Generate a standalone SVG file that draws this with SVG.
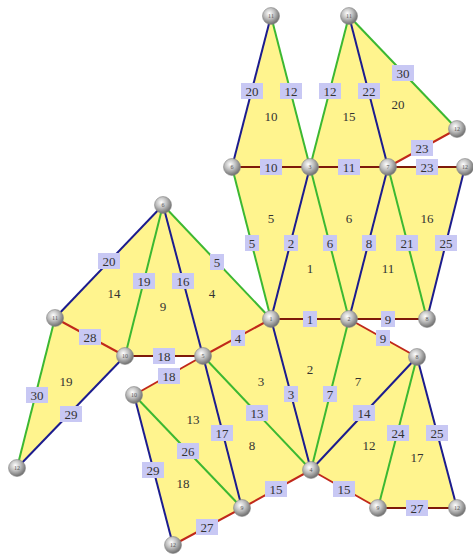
<svg xmlns="http://www.w3.org/2000/svg" width="473" height="555" viewBox="0 0 473 555">
<defs>
<radialGradient id="ball" cx="0.4" cy="0.35" r="0.65">
<stop offset="0" stop-color="#ffffff"/>
<stop offset="0.5" stop-color="#bdbdbd"/>
<stop offset="1" stop-color="#6e6e6e"/>
</radialGradient>
</defs>
<style>
.face{fill:#fff48e;stroke:none}
.ft{font-family:"Liberation Serif",serif;font-size:13px;fill:#333;text-anchor:middle;dominant-baseline:central}
.e{stroke-width:2;fill:none}
.b{stroke:#1c1c8e}
.g{stroke:#3cb832}
.r{stroke:#c0281a}
.d{stroke:#7e1a0a}
.lb{fill:#c8c8f4}
.lt{font-family:"Liberation Serif",serif;font-size:13px;fill:#333;text-anchor:middle;dominant-baseline:central}
.nd{fill:url(#ball);stroke:#8a8a8a;stroke-width:0.6}
.nt{font-family:"Liberation Serif",serif;font-size:6px;fill:#555;text-anchor:middle;dominant-baseline:central}
</style>
<g id="faces">
<polygon class="face" points="271,16 232,167 310,167"/>
<polygon class="face" points="349,16 310,167 388,167"/>
<polygon class="face" points="349,16 388,167 457,129"/>
<polygon class="face" points="232,167 310,167 271,319"/>
<polygon class="face" points="310,167 388,167 349,319"/>
<polygon class="face" points="388,167 465,167 427,319"/>
<polygon class="face" points="310,167 271,319 349,319"/>
<polygon class="face" points="388,167 349,319 427,319"/>
<polygon class="face" points="163,205 55,318 125,356"/>
<polygon class="face" points="163,205 125,356 203,356"/>
<polygon class="face" points="163,205 203,356 271,319"/>
<polygon class="face" points="55,318 125,356 17,468"/>
<polygon class="face" points="271,319 349,319 311,470"/>
<polygon class="face" points="203,356 271,319 311,470"/>
<polygon class="face" points="349,319 417,357 311,470"/>
<polygon class="face" points="203,356 311,470 242,508"/>
<polygon class="face" points="203,356 134,395 242,508"/>
<polygon class="face" points="134,395 242,508 173,545"/>
<polygon class="face" points="311,470 417,357 378,508"/>
<polygon class="face" points="417,357 378,508 457,508"/>
<text class="ft" x="271" y="116">10</text>
<text class="ft" x="349" y="116">15</text>
<text class="ft" x="398" y="104">20</text>
<text class="ft" x="271" y="218">5</text>
<text class="ft" x="349" y="218">6</text>
<text class="ft" x="427" y="218">16</text>
<text class="ft" x="310" y="268">1</text>
<text class="ft" x="388" y="268">11</text>
<text class="ft" x="114" y="293">14</text>
<text class="ft" x="163" y="306">9</text>
<text class="ft" x="212" y="293">4</text>
<text class="ft" x="66" y="381">19</text>
<text class="ft" x="310" y="369">2</text>
<text class="ft" x="261" y="381">3</text>
<text class="ft" x="358" y="381">7</text>
<text class="ft" x="252" y="445">8</text>
<text class="ft" x="193" y="419">13</text>
<text class="ft" x="183" y="483">18</text>
<text class="ft" x="369" y="445">12</text>
<text class="ft" x="417" y="457">17</text>
</g>
<g id="connectors">
<line class="e b" x1="271" y1="16" x2="232" y2="167"/>
<line class="e g" x1="271" y1="16" x2="310" y2="167"/>
<line class="e g" x1="349" y1="16" x2="310" y2="167"/>
<line class="e b" x1="349" y1="16" x2="388" y2="167"/>
<line class="e g" x1="349" y1="16" x2="457" y2="129"/>
<line class="e r" x1="457" y1="129" x2="388" y2="167"/>
<line class="e d" x1="232" y1="167" x2="310" y2="167"/>
<line class="e d" x1="310" y1="167" x2="388" y2="167"/>
<line class="e d" x1="388" y1="167" x2="465" y2="167"/>
<line class="e g" x1="232" y1="167" x2="271" y2="319"/>
<line class="e b" x1="310" y1="167" x2="271" y2="319"/>
<line class="e g" x1="310" y1="167" x2="349" y2="319"/>
<line class="e b" x1="388" y1="167" x2="349" y2="319"/>
<line class="e g" x1="388" y1="167" x2="427" y2="319"/>
<line class="e b" x1="465" y1="167" x2="427" y2="319"/>
<line class="e d" x1="271" y1="319" x2="349" y2="319"/>
<line class="e d" x1="349" y1="319" x2="427" y2="319"/>
<line class="e b" x1="163" y1="205" x2="55" y2="318"/>
<line class="e g" x1="163" y1="205" x2="125" y2="356"/>
<line class="e b" x1="163" y1="205" x2="203" y2="356"/>
<line class="e g" x1="163" y1="205" x2="271" y2="319"/>
<line class="e r" x1="55" y1="318" x2="125" y2="356"/>
<line class="e d" x1="125" y1="356" x2="203" y2="356"/>
<line class="e r" x1="203" y1="356" x2="271" y2="319"/>
<line class="e g" x1="55" y1="318" x2="17" y2="468"/>
<line class="e b" x1="125" y1="356" x2="17" y2="468"/>
<line class="e r" x1="203" y1="356" x2="134" y2="395"/>
<line class="e b" x1="134" y1="395" x2="173" y2="545"/>
<line class="e g" x1="134" y1="395" x2="242" y2="508"/>
<line class="e b" x1="203" y1="356" x2="242" y2="508"/>
<line class="e g" x1="203" y1="356" x2="311" y2="470"/>
<line class="e b" x1="271" y1="319" x2="311" y2="470"/>
<line class="e g" x1="349" y1="319" x2="311" y2="470"/>
<line class="e b" x1="311" y1="470" x2="417" y2="357"/>
<line class="e r" x1="349" y1="319" x2="417" y2="357"/>
<line class="e g" x1="417" y1="357" x2="378" y2="508"/>
<line class="e b" x1="417" y1="357" x2="457" y2="508"/>
<line class="e r" x1="242" y1="508" x2="311" y2="470"/>
<line class="e r" x1="311" y1="470" x2="378" y2="508"/>
<line class="e d" x1="378" y1="508" x2="457" y2="508"/>
<line class="e r" x1="173" y1="545" x2="242" y2="508"/>
</g>
<g id="edge-labels">
<rect class="lb" x="241" y="83" width="22" height="16"/><text class="lt" x="252" y="91">20</text>
<rect class="lb" x="280" y="83" width="22" height="16"/><text class="lt" x="291" y="91">12</text>
<rect class="lb" x="319" y="83" width="22" height="16"/><text class="lt" x="330" y="91">12</text>
<rect class="lb" x="358" y="83" width="22" height="16"/><text class="lt" x="369" y="91">22</text>
<rect class="lb" x="392" y="65" width="22" height="16"/><text class="lt" x="403" y="73">30</text>
<rect class="lb" x="411" y="140" width="22" height="16"/><text class="lt" x="422" y="148">23</text>
<rect class="lb" x="260" y="159" width="22" height="16"/><text class="lt" x="271" y="167">10</text>
<rect class="lb" x="338" y="159" width="22" height="16"/><text class="lt" x="349" y="167">11</text>
<rect class="lb" x="416" y="159" width="22" height="16"/><text class="lt" x="427" y="167">23</text>
<rect class="lb" x="245" y="235" width="14" height="16"/><text class="lt" x="252" y="243">5</text>
<rect class="lb" x="284" y="235" width="14" height="16"/><text class="lt" x="291" y="243">2</text>
<rect class="lb" x="323" y="235" width="14" height="16"/><text class="lt" x="330" y="243">6</text>
<rect class="lb" x="362" y="235" width="14" height="16"/><text class="lt" x="369" y="243">8</text>
<rect class="lb" x="396" y="235" width="22" height="16"/><text class="lt" x="407" y="243">21</text>
<rect class="lb" x="435" y="235" width="22" height="16"/><text class="lt" x="446" y="243">25</text>
<rect class="lb" x="303" y="311" width="14" height="16"/><text class="lt" x="310" y="319">1</text>
<rect class="lb" x="381" y="311" width="14" height="16"/><text class="lt" x="388" y="319">9</text>
<rect class="lb" x="98" y="253" width="22" height="16"/><text class="lt" x="109" y="261">20</text>
<rect class="lb" x="133" y="273" width="22" height="16"/><text class="lt" x="144" y="281">19</text>
<rect class="lb" x="172" y="273" width="22" height="16"/><text class="lt" x="183" y="281">16</text>
<rect class="lb" x="210" y="254" width="14" height="16"/><text class="lt" x="217" y="262">5</text>
<rect class="lb" x="79" y="329" width="22" height="16"/><text class="lt" x="90" y="337">28</text>
<rect class="lb" x="153" y="348" width="22" height="16"/><text class="lt" x="164" y="356">18</text>
<rect class="lb" x="231" y="330" width="14" height="16"/><text class="lt" x="238" y="338">4</text>
<rect class="lb" x="26" y="387" width="22" height="16"/><text class="lt" x="37" y="395">30</text>
<rect class="lb" x="60" y="406" width="22" height="16"/><text class="lt" x="71" y="414">29</text>
<rect class="lb" x="158" y="368" width="22" height="16"/><text class="lt" x="169" y="376">18</text>
<rect class="lb" x="142" y="462" width="22" height="16"/><text class="lt" x="153" y="470">29</text>
<rect class="lb" x="177" y="443" width="22" height="16"/><text class="lt" x="188" y="451">26</text>
<rect class="lb" x="211" y="425" width="22" height="16"/><text class="lt" x="222" y="433">17</text>
<rect class="lb" x="246" y="405" width="22" height="16"/><text class="lt" x="257" y="413">13</text>
<rect class="lb" x="284" y="386" width="14" height="16"/><text class="lt" x="291" y="394">3</text>
<rect class="lb" x="323" y="386" width="14" height="16"/><text class="lt" x="330" y="394">7</text>
<rect class="lb" x="353" y="405" width="22" height="16"/><text class="lt" x="364" y="413">14</text>
<rect class="lb" x="376" y="330" width="14" height="16"/><text class="lt" x="383" y="338">9</text>
<rect class="lb" x="387" y="425" width="22" height="16"/><text class="lt" x="398" y="433">24</text>
<rect class="lb" x="426" y="425" width="22" height="16"/><text class="lt" x="437" y="433">25</text>
<rect class="lb" x="265" y="481" width="22" height="16"/><text class="lt" x="276" y="489">15</text>
<rect class="lb" x="333" y="481" width="22" height="16"/><text class="lt" x="344" y="489">15</text>
<rect class="lb" x="406" y="500" width="22" height="16"/><text class="lt" x="417" y="508">27</text>
<rect class="lb" x="196" y="519" width="22" height="16"/><text class="lt" x="207" y="527">27</text>
</g>
<g id="node-a11"><circle class="nd" cx="271" cy="16" r="8.5"/><text class="nt" x="271" y="16">11</text></g>
<g id="node-b11"><circle class="nd" cx="349" cy="16" r="8.5"/><text class="nt" x="349" y="16">11</text></g>
<g id="node-c12"><circle class="nd" cx="457" cy="129" r="8.5"/><text class="nt" x="457" y="129">12</text></g>
<g id="node-d6"><circle class="nd" cx="232" cy="167" r="8.5"/><text class="nt" x="232" y="167">6</text></g>
<g id="node-e3"><circle class="nd" cx="310" cy="167" r="8.5"/><text class="nt" x="310" y="167">3</text></g>
<g id="node-f7"><circle class="nd" cx="388" cy="167" r="8.5"/><text class="nt" x="388" y="167">7</text></g>
<g id="node-g12"><circle class="nd" cx="465" cy="167" r="8.5"/><text class="nt" x="465" y="167">12</text></g>
<g id="node-h1"><circle class="nd" cx="271" cy="319" r="8.5"/><text class="nt" x="271" y="319">1</text></g>
<g id="node-i2"><circle class="nd" cx="349" cy="319" r="8.5"/><text class="nt" x="349" y="319">2</text></g>
<g id="node-j8"><circle class="nd" cx="427" cy="319" r="8.5"/><text class="nt" x="427" y="319">8</text></g>
<g id="node-k6"><circle class="nd" cx="163" cy="205" r="8.5"/><text class="nt" x="163" y="205">6</text></g>
<g id="node-l11"><circle class="nd" cx="55" cy="318" r="8.5"/><text class="nt" x="55" y="318">11</text></g>
<g id="node-m10"><circle class="nd" cx="125" cy="356" r="8.5"/><text class="nt" x="125" y="356">10</text></g>
<g id="node-n5"><circle class="nd" cx="203" cy="356" r="8.5"/><text class="nt" x="203" y="356">5</text></g>
<g id="node-o10"><circle class="nd" cx="134" cy="395" r="8.5"/><text class="nt" x="134" y="395">10</text></g>
<g id="node-p12"><circle class="nd" cx="17" cy="468" r="8.5"/><text class="nt" x="17" y="468">12</text></g>
<g id="node-q8"><circle class="nd" cx="417" cy="357" r="8.5"/><text class="nt" x="417" y="357">8</text></g>
<g id="node-r4"><circle class="nd" cx="311" cy="470" r="8.5"/><text class="nt" x="311" y="470">4</text></g>
<g id="node-s9"><circle class="nd" cx="242" cy="508" r="8.5"/><text class="nt" x="242" y="508">9</text></g>
<g id="node-t9"><circle class="nd" cx="378" cy="508" r="8.5"/><text class="nt" x="378" y="508">9</text></g>
<g id="node-u12"><circle class="nd" cx="457" cy="508" r="8.5"/><text class="nt" x="457" y="508">12</text></g>
<g id="node-v12"><circle class="nd" cx="173" cy="545" r="8.5"/><text class="nt" x="173" y="545">12</text></g>
</svg>
